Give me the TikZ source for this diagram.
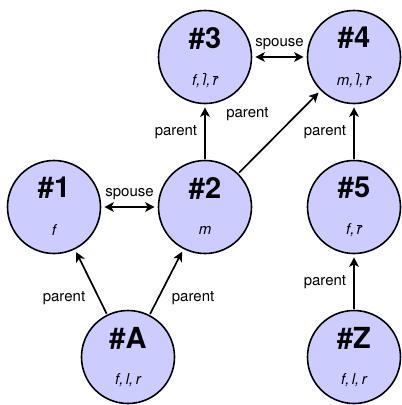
\documentclass[tikz,border=0pt]{standalone}
\usepackage{fontspec}
\setmainfont{TeX Gyre Heros}
\usetikzlibrary{arrows.meta}
\definecolor{nodefill}{RGB}{204,204,255}
\newcommand\obar[1]{\ensuremath{\overline{\hbox{#1}}}}
\tikzset{
  person/.style={circle, draw=black, line width=1.6pt, fill=nodefill, minimum size=93pt, inner sep=0pt},
  rel/.style={line width=1.7pt, -{Stealth[length=9.5pt,width=9.5pt,inset=2.5pt]}, shorten >=3pt, shorten <=1pt},
  rel2/.style={line width=1.7pt, {Stealth[length=9.5pt,width=9.5pt,inset=2.5pt]}-{Stealth[length=9.5pt,width=9.5pt,inset=2.5pt]}, shorten >=3pt, shorten <=3pt},
  lbl/.style={font=\fontsize{15}{17}\selectfont, inner sep=1pt},
}
\newcommand\pnode[4]{%
  \node[person] (#1) at (#2) {};
  \node[font=\fontsize{29}{31}\selectfont\bfseries] (#1t) at ([yshift=19pt]#1.center) {#3};
  \node[font=\fontsize{15}{17}\selectfont\itshape] (#1s) at ([yshift=-23pt]#1.center) {#4};
}
\begin{document}
\begin{tikzpicture}[x=1pt,y=1pt]
\useasboundingbox (0,0) rectangle (402,-405);
\pnode{n3}{205,-57}{\#3}{f,\,\obar{l},\,\obar{r}}
\pnode{n4}{354,-57}{\#4}{m,\,\obar{l},\,\obar{r}}
\pnode{n1}{54,-207}{\#1}{f}
\pnode{n2}{205,-207}{\#2}{m}
\pnode{n5}{354,-207}{\#5}{f,\,\obar{r}}
\pnode{nA}{128,-357}{\#A}{f,\,l,\,r}
\pnode{nZ}{354,-357}{\#Z}{f,\,l,\,r}
\draw[rel2] (n1) -- node[lbl, above=5pt] {spouse} (n2);
\draw[rel2] (n3) -- node[lbl, above=5pt] {spouse} (n4);
\draw[rel] (n2) -- node[lbl, left=6pt] {parent} (n3);
\draw[rel] (n2) -- node[lbl, above left=9pt] {parent} (n4);
\draw[rel] (n5) -- node[lbl, left=6pt] {parent} (n4);
\draw[rel] (nZ) -- node[lbl, left=6pt] {parent} (n5);
\draw[rel] (nA) -- node[lbl, pos=0.25, left=12pt] {parent} (n1);
\draw[rel] (nA) -- node[lbl, pos=0.25, right=12pt] {parent} (n2);
\end{tikzpicture}
\end{document}
